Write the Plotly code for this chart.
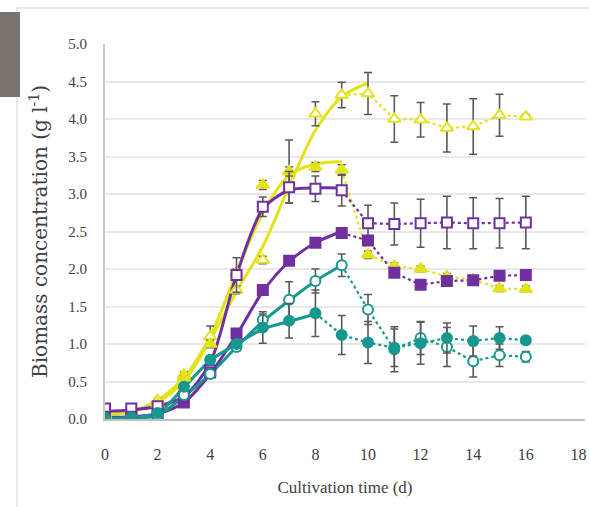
import plotly.graph_objects as go

days = list(range(17))

# Yellow, open triangles
A_mean = [0.08, 0.12, 0.25, 0.59, 1.10, 1.72, 2.12, 3.30, 4.07, 4.32, 4.34, 4.00, 3.99, 3.88, 3.90, 4.05, 4.03]
A_err = [0.02, 0.02, 0.03, 0.04, 0.14, 0.05, 0.05, 0.42, 0.16, 0.17, 0.28, 0.31, 0.23, 0.32, 0.37, 0.28, 0.03]
A_fit = [0.05, 0.10, 0.22, 0.50, 1.05, 1.70, 2.30, 3.10, 3.85, 4.30, 4.48]

# Yellow, filled triangles
B_mean = [0.05, 0.10, 0.20, 0.55, 1.00, 1.95, 3.12, 3.30, 3.36, 3.32, 2.19, 2.04, 2.00, 1.90, 1.86, 1.74, 1.73]
B_err = [0.01, 0.01, 0.02, 0.03, 0.05, 0.05, 0.06, 0.06, 0.06, 0.07, 0.05, 0.04, 0.04, 0.04, 0.04, 0.04, 0.04]
B_fit = [0.05, 0.10, 0.25, 0.55, 1.10, 1.95, 2.75, 3.25, 3.40, 3.43]

# Purple, open squares
C_mean = [0.14, 0.14, 0.17, 0.30, 0.65, 1.92, 2.83, 3.09, 3.07, 3.05, 2.61, 2.60, 2.61, 2.62, 2.61, 2.61, 2.62]
C_err = [0.02, 0.02, 0.02, 0.03, 0.05, 0.23, 0.13, 0.21, 0.17, 0.21, 0.24, 0.28, 0.32, 0.35, 0.34, 0.33, 0.35]
C_fit = [0.10, 0.12, 0.17, 0.30, 0.75, 1.92, 2.80, 3.05, 3.08, 3.08]

# Purple, filled squares
D_mean = [0.03, 0.03, 0.06, 0.22, 0.62, 1.14, 1.72, 2.11, 2.35, 2.48, 2.38, 1.95, 1.79, 1.84, 1.85, 1.91, 1.92]
D_err = [0.01, 0.01, 0.01, 0.02, 0.03, 0.03, 0.03, 0.03, 0.03, 0.03, 0.05, 0.03, 0.03, 0.03, 0.03, 0.03, 0.03]
D_fit = [0.02, 0.03, 0.07, 0.22, 0.60, 1.12, 1.70, 2.10, 2.35, 2.50]

# Teal, open circles
E_mean = [0.01, 0.00, 0.05, 0.32, 0.60, 0.96, 1.32, 1.59, 1.84, 2.05, 1.46, 0.93, 1.08, 0.96, 0.77, 0.85, 0.83]
E_err = [0.01, 0.01, 0.01, 0.03, 0.04, 0.05, 0.08, 0.24, 0.16, 0.15, 0.20, 0.30, 0.22, 0.26, 0.21, 0.15, 0.07]
E_fit = [0.01, 0.01, 0.05, 0.30, 0.60, 0.96, 1.30, 1.58, 1.84, 2.05]

# Teal, filled circles
F_mean = [0.01, 0.02, 0.08, 0.43, 0.79, 1.00, 1.22, 1.31, 1.41, 1.12, 1.02, 0.95, 1.01, 1.08, 1.04, 1.08, 1.05]
F_err = [0.01, 0.01, 0.01, 0.03, 0.05, 0.05, 0.21, 0.23, 0.31, 0.26, 0.28, 0.25, 0.28, 0.20, 0.20, 0.15, 0.05]
F_fit = [0.01, 0.02, 0.08, 0.42, 0.78, 1.00, 1.20, 1.30, 1.40]

x_ticks = [0, 2, 4, 6, 8, 10, 12, 14, 16, 18]
y_ticks = [0.0, 0.5, 1.0, 1.5, 2.0, 2.5, 3.0, 3.5, 4.0, 4.5, 5.0]

YEL = "#e3e31c"
PUR = "#7030a0"
TEAL = "#17988f"
ERR = "#595959"

series = [
    (A_mean, A_err, A_fit, 9, YEL, "triangle-up", True, 11),
    (B_mean, B_err, B_fit, 9, YEL, "triangle-up", False, 11),
    (C_mean, C_err, C_fit, 9, PUR, "square", True, 10),
    (D_mean, D_err, D_fit, 9, PUR, "square", False, 10),
    (E_mean, E_err, E_fit, 9, TEAL, "circle", True, 10),
    (F_mean, F_err, F_fit, 8, TEAL, "circle", False, 10),
]

fig = go.Figure()

# fitted curves
for mean, err, fit, dstart, col, sym, hollow, size in series:
    fig.add_trace(go.Scatter(
        x=days[:len(fit)], y=fit, mode="lines",
        line=dict(color=col, width=3, shape="spline", smoothing=0.8),
        hoverinfo="skip", showlegend=False))

# dotted connectors
for mean, err, fit, dstart, col, sym, hollow, size in series:
    fig.add_trace(go.Scatter(
        x=days[dstart:], y=mean[dstart:], mode="lines",
        line=dict(color=col, width=2.2, dash="dot"),
        hoverinfo="skip", showlegend=False))

# markers with error bars
for mean, err, fit, dstart, col, sym, hollow, size in series:
    fig.add_trace(go.Scatter(
        x=days, y=mean, mode="markers",
        marker=dict(symbol=sym, size=size,
                    color="white" if hollow else col,
                    line=dict(color=col, width=2)),
        error_y=dict(type="data", array=err, visible=True,
                     color=ERR, thickness=1.6, width=4),
        showlegend=False))

fig.update_layout(
    width=589, height=507,
    margin=dict(l=105, r=4, t=44, b=88),
    paper_bgcolor="white", plot_bgcolor="white",
    font=dict(family="Liberation Serif", size=15, color="#404040"),
    xaxis=dict(
        range=[0, 18.25], tickvals=x_ticks, ticktext=[str(v) for v in x_ticks],
        showgrid=False, zeroline=False, automargin=False,
        showline=True, linecolor="#c0c0c0", linewidth=2,
        ticks="", ticklabelstandoff=20,
        tickfont=dict(family="Liberation Serif", size=16, color="#404040"),
        title=dict(text="Cultivation time (d)", standoff=19,
                   font=dict(family="Liberation Serif", size=17, color="#404040")),
    ),
    yaxis=dict(
        range=[0, 5], tickvals=y_ticks, ticktext=[f"{v:.1f}" for v in y_ticks],
        showgrid=True, gridcolor="#e8e8e8", gridwidth=2, zeroline=False, automargin=False,
        showline=True, linecolor="#c8c8c8", linewidth=2,
        ticks="", ticklabelstandoff=13,
        tickfont=dict(family="Liberation Serif", size=15, color="#404040"),
        title=dict(text="Biomass concentration (g l<sup>-1</sup>)", standoff=15,
                   font=dict(family="DejaVu Serif", size=20, color="#404040")),
    ),
    shapes=[
        dict(type="rect", xref="paper", yref="paper",
             x0=(17 - 105) / 480, x1=(600 - 105) / 480,
             y0=(419 - 520) / 375, y1=(419 - 8) / 375,
             line=dict(color="#e4e4e4", width=1.5), fillcolor="rgba(0,0,0,0)",
             layer="below"),
        dict(type="rect", xref="paper", yref="paper",
             x0=(-10 - 105) / 480, x1=(20 - 105) / 480,
             y0=(419 - 97) / 375, y1=(419 - 12) / 375,
             line=dict(width=0), fillcolor="#7b736d"),
    ],
)

fig.write_html(
    "out.html",
    config={"displayModeBar": False},
    post_script=("document.body.style.margin='0';"
                 "document.body.style.overflow='hidden';"
                 "document.documentElement.style.overflow='hidden';"),
)
